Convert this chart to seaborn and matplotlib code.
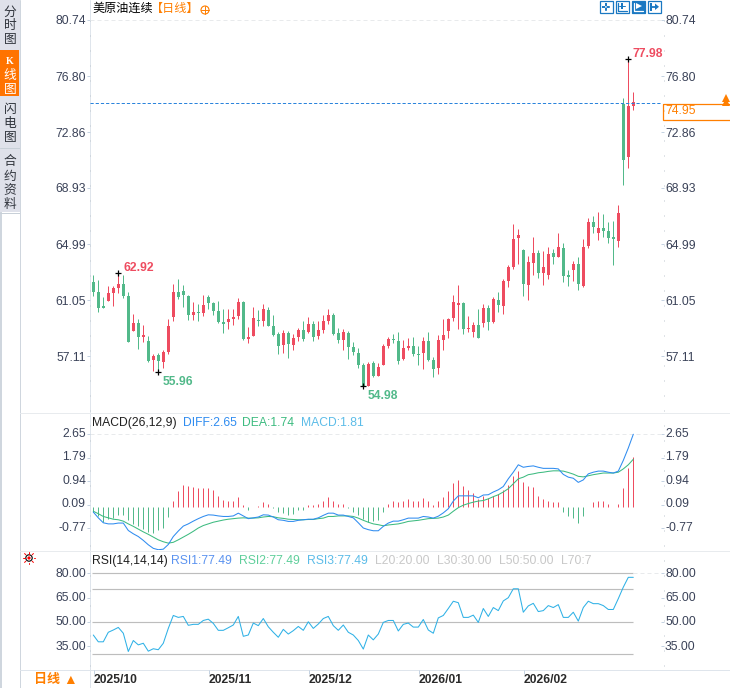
import numpy as np
import pandas as pd
import matplotlib
matplotlib.use("Agg")
import matplotlib.pyplot as plt
from matplotlib.patches import Rectangle, Circle, Polygon
from matplotlib.transforms import ScaledTranslation
import seaborn as sns

opens = [62.34, 61.64, 60.63, 61.00, 61.57, 61.92, 62.17, 61.33, 58.89, 59.46,
         58.45, 58.17, 56.83, 57.18, 56.67, 57.39, 59.83, 61.61, 61.68, 61.33,
         59.99, 60.20, 60.13, 61.26, 60.84, 60.28, 59.50, 59.50, 59.71, 59.92,
         60.91, 58.33, 58.52, 59.64, 59.57, 60.35, 59.22, 58.66, 57.88, 58.70,
         57.88, 58.45, 58.94, 58.80, 59.36, 58.52, 58.94, 59.57, 59.99, 58.73,
         58.24, 58.73, 57.74, 57.32, 56.48, 55.02, 56.62, 55.70, 56.48, 57.81,
         58.31, 58.16, 56.90, 57.67, 57.81, 57.25, 57.32, 58.16, 56.83, 56.27,
         58.24, 58.87, 59.78, 60.70, 60.84, 59.01, 58.80, 59.29, 59.43, 60.49,
         59.50, 61.05, 60.63, 62.38, 63.37, 65.41, 64.57, 62.10, 63.65, 64.35,
         62.95, 62.81, 64.35, 64.07, 64.70, 62.81, 63.16, 63.58, 62.03, 64.85,
         66.53, 65.76, 66.11, 65.90, 65.48, 65.20, 74.83, 71.10, 74.72]
closes = [61.64, 60.51, 60.51, 61.57, 61.92, 62.17, 61.33, 58.12, 59.46, 58.47,
          58.61, 56.76, 57.11, 56.76, 57.39, 59.22, 61.61, 61.26, 61.40, 59.99,
          60.20, 60.16, 60.70, 60.84, 60.28, 59.50, 59.39, 59.71, 59.85, 60.91,
          58.31, 58.45, 59.78, 59.60, 60.42, 59.22, 58.59, 57.81, 58.70, 57.95,
          58.35, 58.94, 58.31, 59.36, 58.45, 58.94, 59.57, 59.99, 58.66, 58.24,
          58.80, 57.74, 57.39, 56.48, 55.02, 56.55, 55.70, 56.34, 57.81, 58.31,
          58.26, 56.76, 57.67, 57.81, 57.25, 57.20, 58.16, 56.83, 56.20, 58.24,
          58.59, 59.71, 60.91, 60.84, 59.01, 59.08, 59.29, 58.37, 60.49, 59.50,
          61.12, 60.70, 62.38, 63.37, 65.34, 65.62, 62.17, 63.72, 64.35, 62.95,
          63.37, 64.28, 64.07, 64.77, 62.74, 62.67, 63.58, 62.17, 64.77, 66.53,
          66.18, 66.11, 65.90, 65.41, 65.34, 67.17, 70.90, 74.69, 74.95]
highs = [62.81, 62.46, 61.28, 62.03, 62.03, 62.92, 62.81, 61.59, 60.06, 59.69,
         59.29, 58.52, 57.23, 57.30, 57.53, 59.71, 62.15, 62.53, 62.10, 61.40,
         60.89, 60.77, 61.40, 61.40, 60.91, 60.98, 60.39, 60.39, 60.42, 61.19,
         60.98, 59.15, 60.56, 60.35, 60.77, 60.56, 59.99, 58.80, 58.94, 58.87,
         58.63, 59.06, 59.57, 59.85, 59.57, 59.57, 59.99, 60.42, 60.13, 59.08,
         59.01, 58.87, 58.09, 57.67, 56.62, 56.69, 56.76, 56.62, 57.95, 58.45,
         58.66, 58.80, 58.24, 58.37, 58.45, 57.81, 58.45, 58.80, 57.04, 58.59,
         59.71, 59.78, 61.40, 62.10, 60.91, 59.92, 59.50, 60.42, 60.77, 60.70,
         61.26, 61.61, 62.53, 63.51, 66.39, 66.04, 64.64, 64.14, 65.48, 64.57,
         64.50, 64.77, 64.64, 65.76, 65.06, 63.16, 63.79, 64.07, 65.34, 66.82,
         66.96, 67.24, 67.10, 66.53, 66.60, 67.73, 75.26, 77.98, 75.68]
lows = [61.33, 60.23, 60.51, 61.00, 60.63, 61.57, 61.17, 58.12, 58.89, 57.60,
        58.10, 56.71, 56.06, 55.96, 56.29, 57.23, 59.57, 61.12, 60.58, 59.64,
        59.64, 59.57, 59.95, 60.42, 59.99, 59.43, 58.73, 59.01, 59.29, 59.71,
        58.24, 58.05, 58.52, 59.22, 59.22, 59.22, 58.52, 57.25, 57.35, 56.99,
        57.53, 58.16, 58.16, 58.73, 58.16, 58.31, 58.73, 59.36, 58.59, 58.02,
        57.53, 56.90, 57.18, 56.27, 54.98, 55.02, 55.63, 55.70, 56.48, 57.67,
        58.02, 56.55, 56.83, 57.53, 57.11, 56.48, 56.20, 56.76, 55.63, 55.84,
        57.53, 58.37, 59.57, 59.01, 58.66, 58.80, 58.45, 58.37, 59.15, 58.94,
        59.43, 60.20, 60.06, 61.96, 63.23, 63.58, 61.33, 61.05, 62.81, 62.60,
        62.10, 62.53, 63.58, 64.07, 62.31, 62.03, 62.38, 61.75, 61.96, 64.70,
        65.76, 65.27, 65.48, 65.06, 63.51, 64.77, 69.14, 70.33, 74.41]

macd_hist = [-0.16, -0.34, -0.55, -0.42, -0.39, -0.27, -0.27, -0.48, -0.61, -0.67,
             -0.79, -0.91, -0.95, -0.85, -0.75, -0.36, 0.24, 0.58, 0.82, 0.75,
             0.72, 0.68, 0.68, 0.68, 0.63, 0.42, 0.27, 0.24, 0.22, 0.35,
             0.06, -0.12, 0.02, 0.05, 0.17, 0.12, -0.04, -0.18, -0.21, -0.27,
             -0.24, -0.12, -0.10, 0.06, 0.06, 0.10, 0.21, 0.35, 0.24, 0.13,
             0.13, -0.04, -0.18, -0.30, -0.42, -0.55, -0.52, -0.48, -0.18, 0.10,
             0.24, 0.17, 0.24, 0.28, 0.24, 0.21, 0.32, 0.21, 0.06, 0.21,
             0.35, 0.57, 0.86, 0.97, 0.75, 0.61, 0.50, 0.28, 0.39, 0.32,
             0.42, 0.46, 0.64, 0.82, 1.15, 1.30, 0.90, 0.75, 0.72, 0.42,
             0.28, 0.24, 0.17, 0.17, -0.16, -0.34, -0.38, -0.56, -0.34, 0.02,
             0.17, 0.24, 0.24, 0.13, -0.01, 0.13, 0.68, 1.41, 1.81]
diff = [-0.18, -0.39, -0.57, -0.61, -0.61, -0.58, -0.58, -0.85, -0.97, -1.07,
        -1.21, -1.37, -1.50, -1.55, -1.53, -1.36, -1.07, -0.87, -0.69, -0.61,
        -0.51, -0.42, -0.34, -0.28, -0.29, -0.32, -0.34, -0.34, -0.32, -0.22,
        -0.32, -0.42, -0.39, -0.36, -0.28, -0.29, -0.36, -0.46, -0.48, -0.52,
        -0.52, -0.48, -0.46, -0.44, -0.44, -0.39, -0.30, -0.22, -0.22, -0.29,
        -0.29, -0.34, -0.39, -0.57, -0.76, -0.82, -0.86, -0.86, -0.70, -0.58,
        -0.51, -0.51, -0.46, -0.40, -0.40, -0.40, -0.34, -0.36, -0.40, -0.33,
        -0.21, -0.06, 0.22, 0.41, 0.41, 0.41, 0.41, 0.34, 0.44, 0.45,
        0.55, 0.63, 0.75, 1.03, 1.27, 1.54, 1.45, 1.48, 1.50, 1.45,
        1.41, 1.41, 1.41, 1.39, 1.19, 1.09, 1.05, 0.90, 0.99, 1.21,
        1.27, 1.31, 1.31, 1.27, 1.24, 1.31, 1.70, 2.15, 2.65]
dea = [-0.15, -0.24, -0.34, -0.39, -0.44, -0.46, -0.51, -0.61, -0.70, -0.80,
       -0.90, -0.99, -1.09, -1.19, -1.26, -1.31, -1.28, -1.19, -1.09, -0.99,
       -0.88, -0.76, -0.67, -0.61, -0.55, -0.51, -0.47, -0.44, -0.42, -0.40,
       -0.39, -0.40, -0.40, -0.39, -0.36, -0.34, -0.35, -0.39, -0.41, -0.44,
       -0.45, -0.46, -0.46, -0.45, -0.45, -0.42, -0.40, -0.34, -0.34, -0.32,
       -0.32, -0.32, -0.34, -0.40, -0.48, -0.55, -0.61, -0.64, -0.68, -0.65,
       -0.63, -0.61, -0.57, -0.52, -0.50, -0.48, -0.45, -0.42, -0.41, -0.40,
       -0.36, -0.29, -0.15, -0.02, 0.07, 0.13, 0.18, 0.22, 0.24, 0.30,
       0.38, 0.45, 0.55, 0.67, 0.85, 1.03, 1.09, 1.18, 1.21, 1.25,
       1.27, 1.30, 1.32, 1.32, 1.31, 1.26, 1.20, 1.12, 1.10, 1.14,
       1.18, 1.21, 1.24, 1.24, 1.24, 1.27, 1.39, 1.54, 1.74]
rsi = [41.8, 37.6, 37.6, 43.5, 44.9, 46.5, 42.9, 31.6, 38.4, 35.7,
       36.7, 31.8, 33.3, 32.7, 36.7, 45.9, 53.9, 52.7, 53.3, 47.8,
       48.4, 48.4, 50.8, 51.6, 49.0, 44.7, 44.7, 46.3, 48.0, 53.3,
       41.0, 41.8, 49.2, 47.6, 52.0, 46.9, 43.5, 40.4, 45.3, 42.4,
       44.5, 47.1, 44.7, 50.0, 45.9, 48.6, 52.0, 53.3, 47.6, 44.7,
       48.0, 43.5, 41.8, 38.4, 33.1, 41.8, 38.8, 42.4, 49.6, 50.8,
       50.8, 44.3, 48.4, 49.2, 46.7, 46.7, 51.4, 44.9, 42.9, 52.4,
       53.9, 58.2, 62.7, 61.8, 52.7, 52.7, 54.1, 49.6, 58.2, 53.3,
       58.8, 56.9, 62.9, 64.9, 70.4, 70.4, 55.9, 59.8, 61.4, 56.3,
       56.9, 60.0, 58.8, 60.6, 52.7, 52.7, 55.9, 50.4, 58.8, 62.7,
       61.2, 61.2, 60.0, 57.6, 57.6, 64.3, 71.4, 77.49, 77.49]

price_ticks = [80.74, 76.80, 72.86, 68.93, 64.99, 61.05, 57.11]
macd_ticks = [2.65, 1.79, 0.94, 0.09, -0.77]
rsi_ticks = [80.00, 65.00, 50.00, 35.00]
rsi_levels = [80, 70, 50, 30]
date_idx = [0, 23, 43, 65, 86]
date_labels = ["2025/10", "2025/11", "2025/12", "2026/01", "2026/02"]
last_price = 74.95

RED = "#ee4c60"
GREEN = "#52b98a"
BLUE = "#2f8cf0"
DEA_GREEN = "#3dbb80"
SKY = "#2fb1e6"
ORANGE = "#ff7f00"
TOOL = "#1a78c2"
TICK = "#3a4258"
EDGE = "#dfe5ec"
W, H = 730, 688
LW = 0.72

sns.set_theme(style="white")
plt.rcParams["font.family"] = ["Liberation Sans", "Noto Sans CJK SC", "DejaVu Sans"]
plt.rcParams["font.size"] = 8.7

df = pd.DataFrame({"i": np.arange(len(closes)), "open": opens, "close": closes,
                   "high": highs, "low": lows, "hist": macd_hist,
                   "diff": diff, "dea": dea, "rsi": rsi})
df["color"] = np.where(df["close"] >= df["open"], RED, GREEN)
df["hist_color"] = np.where(df["hist"] >= 0, RED, GREEN)

fig = plt.figure(figsize=(W / 100, H / 100), dpi=100)
up_1px = ScaledTranslation(0, 1 / 100, fig.dpi_scale_trans)
down_1px = ScaledTranslation(0, -1 / 100, fig.dpi_scale_trans)


def panel(top, bottom):
    return fig.add_axes([90 / W, 1 - bottom / H, (661 - 90) / W, (bottom - top) / H])


def style(ax, ticks):
    for s in ax.spines.values():
        s.set_visible(False)
    ax.patch.set_alpha(0)
    ax.set_xlim(-0.66, 113.54)
    ax.set_yticks(ticks)
    ax.set_yticklabels([f"{t:.2f}" for t in ticks])
    ax.tick_params(axis="y", left=True, right=True, labelleft=True, labelright=True,
                   length=2.5, width=LW, color="#c5d3e2", labelcolor=TICK, pad=0.4,
                   labelsize=8.7, direction="out")
    ax.set_xlabel("")
    ax.set_ylabel("")


# price panel
ax1 = panel(12, 412)
ax1.vlines(df["i"], df["low"], df["high"], colors=df["color"], lw=LW)
ax1.bar(df["i"], (df["close"] - df["open"]).abs().clip(lower=0.06),
        bottom=df[["open", "close"]].min(axis=1), width=0.68, color=df["color"], lw=0)
ax1.set_ylim(53.18, 81.30)
ax1.axhline(price_ticks[0], color="#e8eaec", lw=LW, ls=(0, (4, 3)))
last_line = ax1.axhline(last_price, color="#2b84dc", lw=LW, ls=(0, (3.2, 2)))
last_line.set_transform(last_line.get_transform() + down_1px)
style(ax1, price_ticks)
ax1.set_xticks([])

# highest and lowest marks with their values
for i, val, dx, dy, col in [(5, highs[5], 3.4, 4, RED), (13, lows[13], 3.4, -7, GREEN),
                            (54, lows[54], 3.4, -7, GREEN), (107, highs[107], 3, 4, RED)]:
    ax1.plot(i, val, marker="+", ms=5, mew=0.9, color="black", ls="")
    ax1.annotate(f"{val:.2f}", (i, val), xytext=(dx, dy), textcoords="offset points",
                 color=col, fontsize=8.7, fontweight="bold", va="center", ha="left")

# MACD panel
ax2 = panel(412, 550)
ax2.vlines(df["i"], 0, df["hist"], colors=df["hist_color"], lw=LW)
sns.lineplot(data=df, x="i", y="dea", ax=ax2, color=DEA_GREEN, lw=0.75, errorbar=None)
sns.lineplot(data=df, x="i", y="diff", ax=ax2, color=BLUE, lw=0.75, errorbar=None)
ax2.set_ylim(-1.56, 3.46)
ax2.axhline(macd_ticks[0], color="#e8eaec", lw=LW, ls=(0, (4, 3)), zorder=0)
style(ax2, macd_ticks)
ax2.set_xticks([])
fig.canvas.draw()
for lab in ax2.get_yticklabels(which="major"):
    lab.set_transform(lab.get_transform() + up_1px + up_1px)

# RSI panel
ax3 = panel(550, 669.6)
ax3.hlines(rsi_levels, -0.3, df["i"].iloc[-1], color="#bdbdbd", lw=0.85)
ax3.hlines(80, df["i"].iloc[-1], 113.5, color="#e8eaec", lw=LW, ls=(0, (4, 3)))
sns.lineplot(data=df, x="i", y="rsi", ax=ax3, color=SKY, lw=0.75, errorbar=None)
ax3.set_ylim(20.4, 94.4)
style(ax3, rsi_ticks)
ax3.set_xticks(np.array(date_idx) + 0.06)
ax3.set_xticklabels(date_labels, ha="left", fontweight="bold", color="#2a2a2a", fontsize=8.7)
ax3.tick_params(axis="x", bottom=True, length=3, width=LW, color="#c5d3e2", pad=0)
fig.canvas.draw()
for lab in ax3.get_yticklabels(which="major"):
    lab.set_transform(lab.get_transform() + up_1px)

# pixel layers for the surrounding chrome
ov = fig.add_axes([0, 0, 1, 1], zorder=-1)
top = fig.add_axes([0, 0, 1, 1], zorder=5)
for a in (ov, top):
    a.set_xlim(0, W)
    a.set_ylim(H, 0)
    a.axis("off")

ov.add_patch(Rectangle((0, 0), 20, 212, color="#dfe1ea", lw=0))
ov.add_patch(Rectangle((0, 50), 19, 46, color="#ff7300", lw=0))
ov.add_patch(Rectangle((0, 212), 1.5, H - 212, color="#cfd6de", lw=0))
ov.plot([0, 20], [148, 148], color="#c8d0d8", lw=LW)
ov.plot([0, 20], [212.5, 212.5], color="#c8d0d8", lw=LW)
ov.plot([19.8, 19.8], [0, H], color="#cfd6de", lw=LW)
ov.plot([89.8, 89.8], [0, H], color=EDGE, lw=LW)
ov.plot([20, W], [412.5, 412.5], color="#e8ebee", lw=LW)
ov.plot([20, W], [550.5, 550.5], color="#e8ebee", lw=LW)
ov.plot([20, W], [670, 670], color=EDGE, lw=LW)
ov.plot([89.5, 89.5], [20, 668], color="#c0c8d0", lw=LW, ls=(0, (1, 14)))
ov.plot([663.5, 663.5], [20, 668], color="#c0c8d0", lw=LW, ls=(0, (1, 14)))

for ch, y in [("分", 12.5), ("时", 26), ("图", 40), ("闪", 110), ("电", 124), ("图", 138),
              ("合", 162), ("约", 177), ("资", 191), ("料", 205)]:
    top.text(10, y, ch, ha="center", va="center", fontsize=9.2, color="#30343c")
top.text(10, 61, "K", ha="center", va="center", fontsize=7.2, color="white",
         family="Liberation Serif", fontweight="bold")
for ch, y in [("线", 76), ("图", 90)]:
    top.text(10, y, ch, ha="center", va="center", fontsize=9.2, color="white")

top.text(92, 8.5, "美原油连续", ha="left", va="center", fontsize=8.7, color="black")
top.text(151, 8.5, "【日线】", ha="left", va="center", fontsize=8.7, color=ORANGE)
top.add_patch(Circle((205, 10), 4, fill=False, ec=ORANGE, lw=0.8))
top.plot([201, 209], [10, 10], color=ORANGE, lw=0.7)
top.plot([205, 205], [6, 14], color=ORANGE, lw=0.7)

# toolbar icons
for x0, fill in [(599.5, False), (615.5, False), (631.5, True), (647.5, False)]:
    top.add_patch(Rectangle((x0, 0.5), 13, 12.5, fc=TOOL if fill else "white", ec=TOOL, lw=0.9))
c = 606
top.plot([c - 4.5, c + 4.5], [6.8, 6.8], color=TOOL, lw=1.4, ls=(0, (1.6, 0.8)))
top.plot([c, c], [2.5, 11], color=TOOL, lw=1.4, ls=(0, (1.6, 0.8)))
for x0, col in [(615.5, TOOL), (631.5, "white")]:
    top.plot([x0 + 2.5, x0 + 2.5, x0 + 11], [2.5, 10.5, 10.5], color=col, lw=0.9)
top.add_patch(Rectangle((621, 3), 2, 6, color=TOOL, lw=0))
top.plot([619, 625], [6, 6], color=TOOL, lw=0.7)
top.add_patch(Polygon([(636, 3), (636, 9), (642, 6)], color="white", lw=0))
top.add_patch(Rectangle((650, 2.5), 1.6, 8.5, color=TOOL, lw=0))
top.plot([652, 656], [6.8, 6.8], color=TOOL, lw=1.3)
top.add_patch(Polygon([(655, 3.5), (655, 10), (659, 6.8)], color=TOOL, lw=0))

# last price box and arrow
top.add_patch(Rectangle((662.5, 103.5), 70, 16.5, fill=False, ec=ORANGE, lw=0.9))
top.text(665, 111.5, f"{last_price:.2f}", ha="left", va="center", fontsize=8.7, color=ORANGE)
top.plot([726], [98], marker="^", ms=5.6, color=ORANGE, mew=0, ls="")
top.plot([726], [101.5], marker="^", ms=5.6, color=ORANGE, mew=0, ls="")

for x, txt, col in [(92, "MACD(26,12,9)", "#202020"), (183, "DIFF:2.65", BLUE),
                    (242, "DEA:1.74", DEA_GREEN), (301, "MACD:1.81", "#5cbce8")]:
    top.text(x, 423, txt, ha="left", va="center", fontsize=8.7, color=col)
for x, txt, col in [(92, "RSI(14,14,14)", "#202020"), (171, "RSI1:77.49", "#5b93f0"),
                    (239, "RSI2:77.49", "#5fcf9b"), (307, "RSI3:77.49", "#5cbce8"),
                    (375, "L20:20.00", "#c8c8c8"), (437, "L30:30.00", "#c8c8c8"),
                    (499, "L50:50.00", "#c8c8c8"), (561, "L70:7", "#c8c8c8")]:
    top.text(x, 561, txt, ha="left", va="center", fontsize=8.7, color=col)

# RSI icon
top.add_patch(Circle((29, 558), 3.2, fill=False, ec="black", lw=0.8))
top.add_patch(Circle((29, 558), 1.6, color="red", lw=0))
for a in np.deg2rad(np.arange(0, 360, 45)):
    top.plot([29 + 4.5 * np.cos(a), 29 + 6.3 * np.cos(a)],
             [558 + 4.5 * np.sin(a), 558 + 6.3 * np.sin(a)], color="red", lw=0.7)

top.text(33.5, 680, "日线", ha="left", va="center", fontsize=9.4, fontweight="bold", color=ORANGE)
top.text(63, 680, "▲", ha="left", va="center", fontsize=10, color=ORANGE)

fig.savefig("out.png", dpi=100)
